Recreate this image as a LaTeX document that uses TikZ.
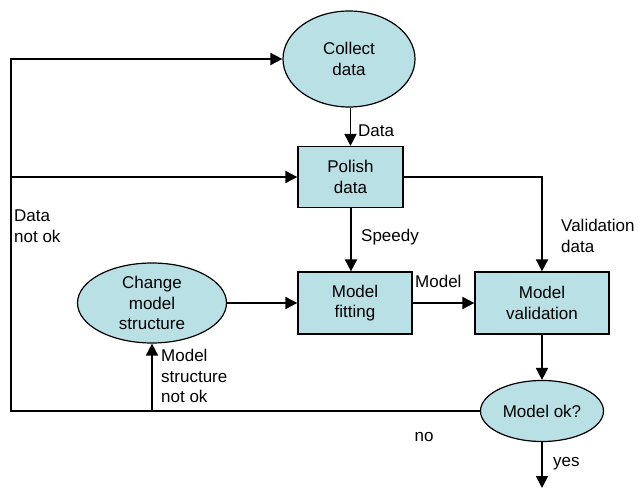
\documentclass[tikz,border=0pt]{standalone}
\usepackage{fontspec}
\setmainfont{Liberation Sans}
\usetikzlibrary{shapes.geometric,arrows.meta}
\definecolor{boxfill}{RGB}{185,224,228}
\tikzset{
  lbl/.style={font=\fontsize{17}{20.5}\selectfont, inner sep=0pt, align=left},
  procbox/.style={draw, line width=1.2pt, fill=boxfill, rectangle, inner sep=0pt, align=center, font=\fontsize{17}{20.5}\selectfont},
  procell/.style={draw, line width=1.2pt, fill=boxfill, ellipse, inner sep=0pt, align=center, font=\fontsize{17}{20.5}\selectfont},
  arr/.style={line width=1.8pt, -{Triangle[length=12pt,width=12pt]}},
  plain/.style={line width=1.8pt}
}
\begin{document}
\begin{tikzpicture}[x=1pt,y=-1pt]
\useasboundingbox (0,0) rectangle (638,489);
% nodes
\node[procell, minimum width=132pt, minimum height=96pt] (collect) at (349,59) {Collect\\data};
\node[procbox, minimum width=105pt, minimum height=61pt] (polish) at (350.5,177) {Polish\\data};
\node[procbox, minimum width=114pt, minimum height=62pt] (fitting) at (355,303) {Model\\fitting};
\node[procbox, minimum width=134pt, minimum height=62pt] (valid) at (542,303) {Model\\validation};
\node[procell, minimum width=149pt, minimum height=80pt] (change) at (152,303) {Change\\model\\structure};
\node[procell, minimum width=123pt, minimum height=61pt] (ok) at (542,411) {Model ok?};
% coordinates
\coordinate (bl) at (11,411);
\coordinate (tl) at (11,59);
\coordinate (cm) at (152,411);
\coordinate (yesend) at (542,488);
% connectors
\draw[arr] (collect.south -| polish.north) -- (polish.north);
\draw[arr] (polish.south -| 351,0) -- (351,0 |- fitting.north);
\draw[arr] (polish.east) -| (valid.north);
\draw[arr] (ok.west) -- (bl) -- (tl) -- (collect.west);
\draw[arr] (bl |- polish.west) -- (polish.west);
\draw[arr] (cm) -- (change.south);
\draw[arr] (change.east) -- (fitting.west);
\draw[arr] (fitting.east) -- (valid.west);
\draw[arr] (valid.south) -- (ok.north);
\draw[arr] (ok.south) -- (yesend);
% labels
\node[lbl, anchor=west] (ldata) at (358,131) {Data};
\node[lbl, anchor=west] (lspeedy) at (361,237) {Speedy};
\node[lbl, anchor=north west] (lvalid) at (561,219) {Validation\\data};
\node[lbl, anchor=west] (lmodel) at (415,281) {Model};
\node[lbl, anchor=north west] (lstruct) at (161,349) {Model\\structure\\not ok};
\node[lbl, anchor=center] (lno) at (424,437) {no};
\node[lbl, anchor=west] (lyes) at (553,464) {yes};
\node[lbl, anchor=north west] (ldnok) at (14,210) {Data\\not ok};
\end{tikzpicture}
\end{document}
